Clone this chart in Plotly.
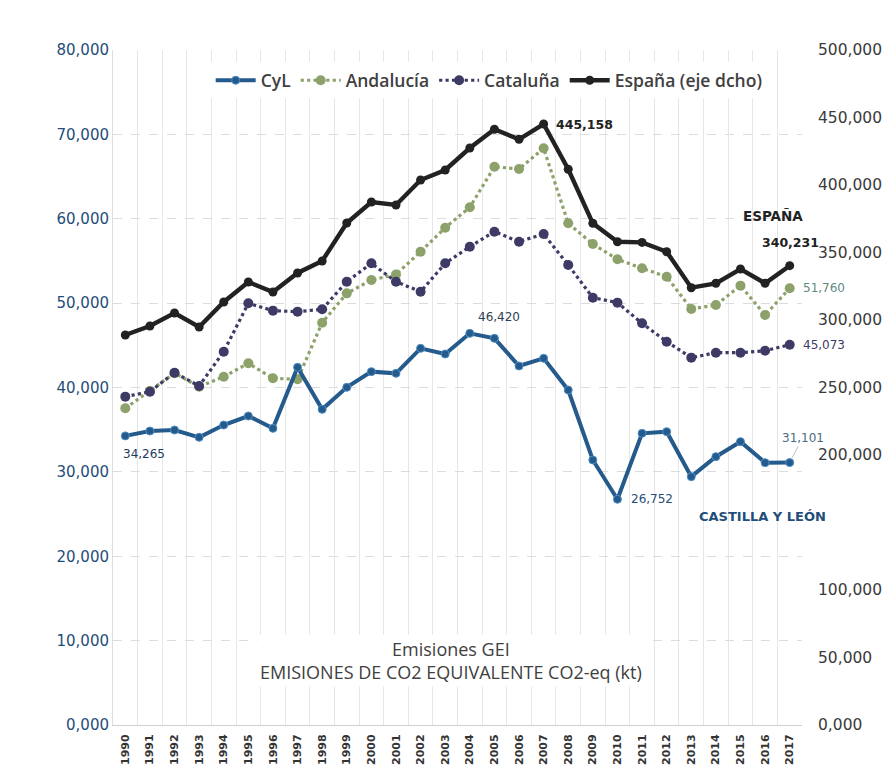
import plotly.graph_objects as go

# Greenhouse-gas emissions (kt CO2-eq), 1990-2017
years = [str(y) for y in range(1990, 2018)]

cyl = [34265, 34844, 34963, 34094, 35556, 36622, 35160, 42390, 37412, 40020,
       41877, 41679, 44640, 43970, 46420, 45827, 42547, 43457, 39704, 31407,
       26752, 34568, 34765, 29432, 31802, 33580, 31091, 31101]

andalucia = [37536, 39600, 41700, 40100, 41284, 42865, 41087, 40970, 47684, 51160,
             52741, 53400, 56099, 58943, 61357, 66170, 65896, 68350, 59460, 57007,
             55190, 54127, 53135, 49304, 49778, 52070, 48593, 51760]

cataluna = [38914, 39506, 41758, 40178, 44246, 49978, 49107, 48988, 49265, 52543,
            54718, 52543, 51357, 54718, 56690, 58469, 57284, 58193, 54519, 50647,
            50055, 47605, 45432, 43536, 44128, 44128, 44365, 45073]

espana = [288889, 295556, 305185, 294815, 313333, 328148, 320741, 334815, 343704, 371852,
          387407, 385185, 403704, 411111, 427407, 441259, 433852, 445158, 411630, 371630,
          358000, 357500, 350593, 323926, 327185, 337778, 327185, 340231]

left_ticks = [0, 10000, 20000, 30000, 40000, 50000, 60000, 70000, 80000]
left_labels = ["0,000", "10,000", "20,000", "30,000", "40,000",
               "50,000", "60,000", "70,000", "80,000"]
right_ticks = [0, 50000, 100000, 200000, 250000, 300000, 350000, 400000, 450000, 500000]
right_labels = ["0,000", "50,000", "100,000", "200,000", "250,000",
                "300,000", "350,000", "400,000", "450,000", "500,000"]

C_CYL = "#245a8c"
C_AND = "#8da26a"
C_CAT = "#3d3b66"
C_ESP = "#222222"

fig = go.Figure()

fig.add_trace(go.Scatter(
    x=years, y=andalucia, name="Andalucía", mode="lines+markers",
    line=dict(color=C_AND, width=3.2, dash="dot"),
    marker=dict(size=10, color=C_AND), legendrank=2))
fig.add_trace(go.Scatter(
    x=years, y=cataluna, name="Cataluña", mode="lines+markers",
    line=dict(color=C_CAT, width=3.2, dash="dot"),
    marker=dict(size=10, color=C_CAT), legendrank=3))
fig.add_trace(go.Scatter(
    x=years, y=cyl, name="CyL", mode="lines+markers",
    line=dict(color=C_CYL, width=4),
    marker=dict(size=8, color=C_CYL, line=dict(color="#4f8fc4", width=1)),
    legendrank=1))
fig.add_trace(go.Scatter(
    x=years, y=espana, name="España (eje dcho)", mode="lines+markers",
    line=dict(color=C_ESP, width=4.4),
    marker=dict(size=9, color=C_ESP), yaxis="y2", legendrank=4))

fig.update_layout(
    width=893, height=776,
    margin=dict(l=113, r=91, t=50, b=51),
    paper_bgcolor="white", plot_bgcolor="white",
    showlegend=True,
    legend=dict(
        orientation="h", x=0.546, y=0.955, xanchor="center", yanchor="middle",
        bgcolor="white", font=dict(family="Open Sans", size=17.5, color="#404040", weight=600),
        itemwidth=40, tracegroupgap=0),
    xaxis=dict(
        type="category", range=[-0.5, 27.5], tickson="boundaries",
        showgrid=True, gridcolor="#e6e6e6", gridwidth=1,
        ticks="", tickangle=-90, ticklabelstandoff=4,
        tickfont=dict(family="DejaVu Sans", size=11, color="#333333", weight="bold"),
        showline=True, linecolor="#d0d0d0", linewidth=1, zeroline=False),
    yaxis=dict(
        range=[0, 80000], tickvals=left_ticks, ticktext=left_labels,
        showgrid=True, gridcolor="#dcdcdc", griddash="dash", gridwidth=1,
        tickfont=dict(family="DejaVu Sans", size=15, color="#1f4e79"),
        showline=True, linecolor="#dedede", zeroline=False, ticks=""),
    yaxis2=dict(
        range=[0, 500000], tickvals=right_ticks, ticktext=right_labels,
        overlaying="y", side="right", showgrid=False, zeroline=False,
        tickfont=dict(family="DejaVu Sans", size=15.5, color="#3a3a3a"),
        ticklabelstandoff=15, ticks=""),
)


def xi(year):
    # position of a year on the category axis
    return years.index(year)


bold = dict(family="DejaVu Sans", size=12.5, weight="bold")

annotations = [
    dict(x=xi("2007"), y=445158, yref="y2", text="445,158", xanchor="left", xshift=10,
         font=dict(bold, color="#222222")),
    dict(x=xi("2017"), y=340231, yref="y2", text="ESPAÑA", xshift=-17, yshift=50,
         font=dict(family="DejaVu Sans", size=13.5, weight="bold", color="#222222")),
    dict(x=xi("2017"), y=340231, yref="y2", text="340,231", xshift=1, yshift=23,
         font=dict(bold, color="#222222")),
    dict(x=xi("2017"), y=51760, yref="y", text="51,760", xanchor="left", xshift=11,
         font=dict(family="DejaVu Sans", size=12, color="#5f8a80")),
    dict(x=xi("2017"), y=45073, yref="y", text="45,073", xanchor="left", xshift=11,
         font=dict(family="DejaVu Sans", size=12, color="#3d3b66")),
    dict(x=xi("2017"), y=31101, yref="y", text="31,101", showarrow=True, ax=13, ay=-25,
         arrowhead=0, arrowwidth=1, arrowcolor="#b8c4cc", standoff=5,
         font=dict(family="DejaVu Sans", size=12, color="#4a6b80")),
    dict(x=xi("2010"), y=26752, yref="y", text="26,752", xanchor="left", xshift=12,
         font=dict(family="DejaVu Sans", size=12, color="#1f4e79")),
    dict(x=xi("2017"), y=31101, yref="y", text="CASTILLA Y LEÓN", xshift=-27, yshift=-54,
         font=dict(family="DejaVu Sans", size=13, weight="bold", color="#1f4e79")),
    dict(x=xi("2004"), y=46420, yref="y", text="46,420", xshift=29, yshift=16,
         font=dict(family="DejaVu Sans", size=12, color="#2f3f55")),
    dict(x=xi("1990"), y=34265, yref="y", text="34,265", xanchor="left", xshift=-4, yshift=-18,
         font=dict(family="DejaVu Sans", size=12, color="#1f3b5e")),
    dict(xref="paper", yref="paper", x=0.491, y=0.095, yanchor="middle",
         text="Emisiones GEI<br>EMISIONES DE CO2 EQUIVALENTE CO2-eq (kt)",
         bgcolor="white", borderpad=2,
         font=dict(family="Open Sans", size=18, color="#404040")),
]
for a in annotations:
    a.setdefault("showarrow", False)
    a.setdefault("xref", "x")
fig.update_layout(annotations=annotations)

fig.write_html("out.html")
